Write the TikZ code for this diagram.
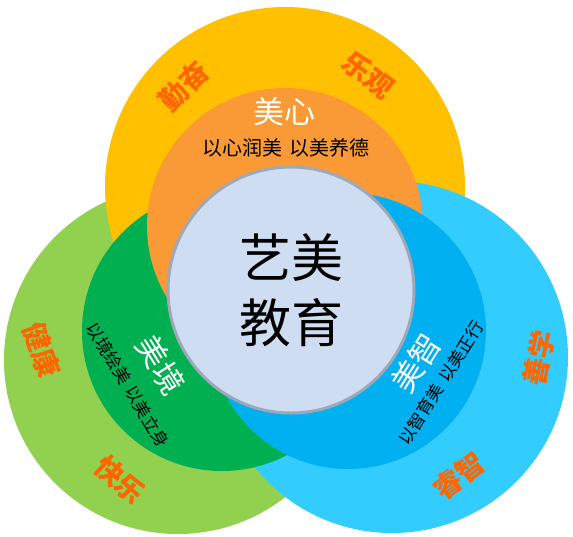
\documentclass[tikz,border=0pt]{standalone}
\usepackage{fontspec}
\setmainfont{Noto Sans CJK SC}
\usepackage{tikz}
\usepackage{xcolor}
\definecolor{Art_Yellow}{HTML}{FFC000}
\definecolor{Art_Orange}{HTML}{F99A37}
\definecolor{Art_LightGreen}{HTML}{92D050}
\definecolor{Art_Green}{HTML}{00B050}
\definecolor{Art_LightBlue}{HTML}{33CCFF}
\definecolor{Art_Blue}{HTML}{00B0F0}
\definecolor{Art_Core}{HTML}{CFDDF2}
\definecolor{Art_Border}{HTML}{9EA8B8}
\definecolor{Art_Tag}{HTML}{FF6600}

\begin{document}
\begin{tikzpicture}[x=1pt, y=-1pt,
    ring/.style={circle, inner sep=0pt, minimum size=#1},
    tag/.style={text=Art_Tag, inner sep=1pt, font=\bfseries\fontsize{28}{28}\selectfont},
    heading/.style={text=white, font=\fontsize{31}{31}\selectfont},
    motto/.style={text=black, font=\fontsize{#1}{#1}\selectfont}]
    \useasboundingbox (0,0) rectangle (573,536);

    % Three outer rings, then the three inner discs
    \node[ring=348pt, fill=Art_LightGreen] (greenring) at (178,360) {};
    \node[ring=360pt, fill=Art_Yellow] (yellowring) at (285,187) {};
    \node[ring=352pt, fill=Art_LightBlue] (bluering) at (392,357) {};
    \node[ring=280pt, fill=Art_Green] (jingdisc) at (222,331) {};
    \node[ring=276pt, fill=Art_Orange] (xindisc) at (285,226) {};
    \node[ring=276pt, fill=Art_Blue] (zhidisc) at (348,331) {};

    % Core circle with the title
    \node[ring=246pt, fill=Art_Core, draw=Art_Border, line width=3pt, align=center, font=\fontsize{52}{65}\selectfont] (core) at (291,290) {艺美\\教育};

    % Words on the outer rings
    \node[tag, rotate=45] (qinfen) at (184,86) {勤奋};
    \node[tag, rotate=-37] (leguan) at (368,75) {乐观};
    \node[tag, rotate=-70] (jiankang) at (42,350) {健康};
    \node[tag, rotate=-42] (kuaile) at (120,480) {快乐};
    \node[tag, rotate=78] (shanxue) at (539,358) {善学};
    \node[tag, rotate=38] (ruizhi) at (459,476) {睿智};

    % Headings and mottos on the inner discs
    \node[heading] (xin) at (284,112) {美心};
    \node[motto=20] (xinmotto) at (286,148) {以心润美\hspace{0.35em}以美养德};
    \node[heading, rotate=-58] (jing) at (161,365) {美境};
    \node[motto=17, rotate=-59] (jingmotto) at (128,385) {以境绘美\hspace{0.35em}以美立身};
    \node[heading, rotate=58] (zhi) at (416,363) {美智};
    \node[motto=17, rotate=58] (zhimotto) at (441,383) {以智育美\hspace{0.35em}以美正行};
\end{tikzpicture}
\end{document}
